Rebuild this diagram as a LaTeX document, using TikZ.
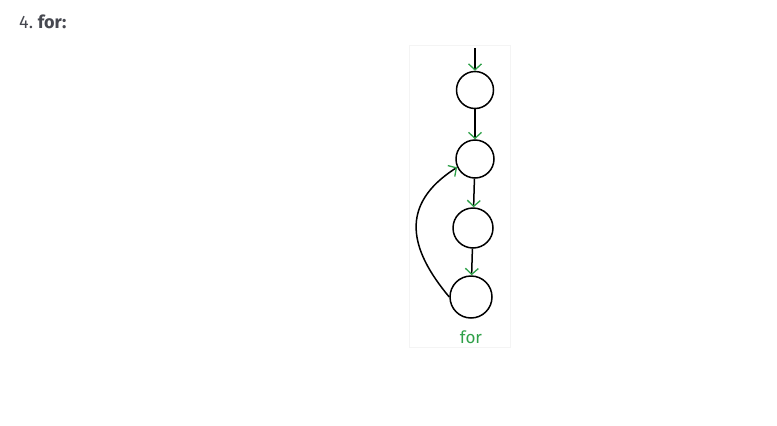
\documentclass[tikz,border=0pt]{standalone}
\usepackage{fontspec}
\setmainfont{Fira Sans}
\usetikzlibrary{arrows.meta}
\definecolor{fgreen}{RGB}{46,160,72}
\definecolor{titlegray}{RGB}{70,72,80}
\definecolor{panelline}{RGB}{244,244,244}
\begin{document}
\begin{tikzpicture}[x=1pt,y=-1pt,
  state/.style={circle,draw=black,line width=1.5pt,minimum size=37pt,inner sep=0pt},
  flow/.style={draw=black,line width=1.5pt,-{Straight Barb[color=fgreen,length=6pt,width=13pt,line width=1.3pt]}}]
\useasboundingbox (0,0) rectangle (777,426);
\fill[white] (0,0) rectangle (777,426);
\draw[panelline,line width=1pt,fill=white] (409.5,45.5) rectangle (510.5,347.5);
\node[anchor=west,text=titlegray,inner sep=0pt,font=\fontsize{18pt}{20pt}\selectfont] (title) at (19,22) {4.\ \textbf{for:}};
\coordinate (start) at (475,48);
\node[state] (c1) at (475,90) {};
\node[state,minimum size=38pt] (c2) at (475,159) {};
\node[state,minimum size=40pt] (c3) at (473,228) {};
\node[state,minimum size=42pt] (c4) at (471,297) {};
\node[text=fgreen,font=\fontsize{17pt}{19pt}\selectfont] (lbl) at (471,337) {for};
\draw[flow] (start) -- (c1);
\draw[flow] (c1) -- (c2);
\draw[flow] (c2) -- (c3);
\draw[flow] (c3) -- (c4);
\draw[flow] (c4.180) .. controls (410,250) and (398,205) .. (c2.205);
\end{tikzpicture}
\end{document}
